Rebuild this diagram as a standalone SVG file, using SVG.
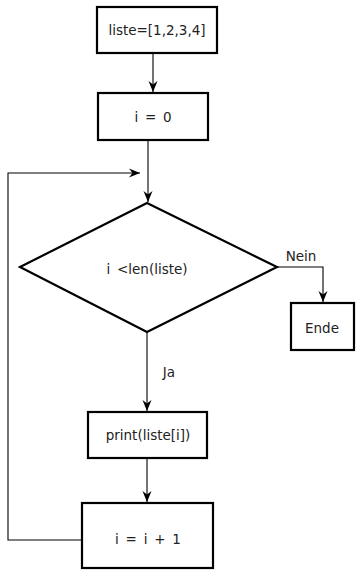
<svg xmlns="http://www.w3.org/2000/svg" width="358" height="573" viewBox="0 0 358 573">
<defs>
<style>
.box{fill:#fff;stroke:#000;stroke-width:2.2}
.edge{fill:none;stroke:#000;stroke-width:1.1}
text{font-family:"DejaVu Sans","Liberation Sans",sans-serif;font-size:13.5px;fill:#222;text-anchor:middle;dominant-baseline:central}
.m{word-spacing:2.5px}
</style>
<marker id="ah" markerUnits="userSpaceOnUse" viewBox="-12 -6 13 12" refX="0" refY="0" markerWidth="13" markerHeight="12" orient="auto">
<path d="M0,0 L-11,-4.5 L-7.5,0 L-11,4.5 Z" fill="#000"/>
</marker>
</defs>
<g id="connectors">
<path class="edge" d="M153,53 V92" marker-end="url(#ah)"/>
<path class="edge" d="M148,140 V202" marker-end="url(#ah)"/>
<path class="edge" d="M147,333 V411" marker-end="url(#ah)"/>
<path class="edge" d="M147,458 V502" marker-end="url(#ah)"/>
<path class="edge" d="M82,540 H8 V173 H140" marker-end="url(#ah)"/>
<path class="edge" d="M277,267 H323 V302" marker-end="url(#ah)"/>
<text x="301" y="256">Nein</text>
<text x="169" y="372">Ja</text>
</g>
<g id="n1">
<rect class="box" x="97" y="7" width="120" height="46"/>
<text x="157" y="30">liste=[1,2,3,4]</text>
</g>
<g id="n2">
<rect class="box" x="98" y="93" width="110" height="47"/>
<text class="m" x="153" y="117">i = 0</text>
</g>
<g id="n3">
<polygon class="box" points="147,203 277,267 147,332 20,267"/>
<text class="m" x="147" y="269">i &lt;len(liste)</text>
</g>
<g id="n4">
<rect class="box" x="88" y="412" width="119" height="46"/>
<text x="148" y="435">print(liste[i])</text>
</g>
<g id="n5">
<rect class="box" x="82" y="503" width="131" height="65"/>
<text class="m" x="148" y="539">i = i + 1</text>
</g>
<g id="n6">
<rect class="box" x="291" y="303" width="63" height="47"/>
<text x="322" y="328">Ende</text>
</g>
</svg>
